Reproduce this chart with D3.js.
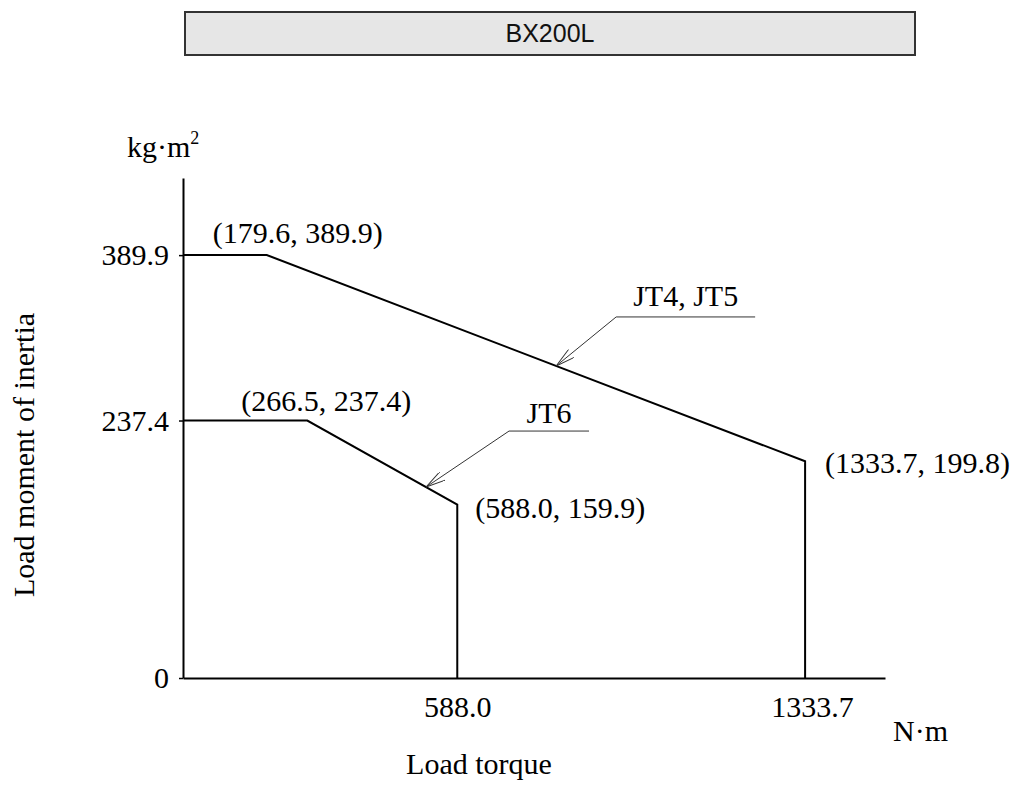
<!DOCTYPE html>
<html>
<head>
<meta charset="utf-8">
<script src="https://cdn.jsdelivr.net/npm/d3@7"></script>
<style>
  html, body { margin: 0; padding: 0; background: #fff; }
  svg { display: block; }
</style>
</head>
<body>
<svg id="chart" width="1021" height="787"></svg>
<script>
// ---- data ----
const title = "BX200L";
const torqueJT45 = [0, 179.6, 1333.7, 1333.7];
const inertiaJT45 = [389.9, 389.9, 199.8, 0];
const torqueJT6 = [0, 266.5, 588.0, 588.0];
const inertiaJT6 = [237.4, 237.4, 159.9, 0];
const xTicks = [588.0, 1333.7];
const yTicks = [0, 237.4, 389.9];
const seriesNames = ["JT4, JT5", "JT6"];
const arrowTipTorque = [800, 521];
const xLabel = "Load torque";
const yLabel = "Load moment of inertia";
const xUnit = "N·m";

const svg = d3.select("#chart");
const serif = "'Liberation Serif', 'Times New Roman', serif";
const FS = 30;

// ---- scales ----
const x = d3.scaleLinear().domain([0, 1505]).range([183, 885]);
const y = d3.scaleLinear().domain([0, 461]).range([678, 178]);

// ---- title box ----
svg.append("rect").attr("x", 185).attr("y", 12).attr("width", 730).attr("height", 43)
  .attr("fill", "#e6e6e6").attr("stroke", "#333").attr("stroke-width", 2);
svg.append("text").attr("x", 550).attr("y", 42).attr("text-anchor", "middle")
  .attr("font-family", "'Liberation Sans', Arial, sans-serif").attr("font-size", 25)
  .attr("fill", "#111").text(title);

// ---- axes ----
const fmt = v => v === 0 ? "0" : d3.format(".1f")(v);
const yAxis = svg.append("g").attr("transform", `translate(${x(0)},0)`)
  .call(d3.axisLeft(y).tickValues(yTicks).tickSize(4).tickSizeOuter(0).tickPadding(10).tickFormat(fmt));
const xAxis = svg.append("g").attr("transform", `translate(0,${y(0)})`)
  .call(d3.axisBottom(x).tickValues(xTicks).tickSize(0).tickSizeOuter(0).tickPadding(18).tickFormat(fmt));
[xAxis, yAxis].forEach(g => {
  g.select(".domain").attr("stroke", "#000").attr("stroke-width", 2);
  g.selectAll(".tick line").attr("stroke", "#000").attr("stroke-width", 1.5);
  g.selectAll(".tick text").attr("font-family", serif).attr("font-size", FS).attr("fill", "#000");
});
yAxis.selectAll(".tick text").attr("dy", "0.32em");
xAxis.selectAll(".tick text").filter(d => d === 1333.7).attr("dx", 7);

// ---- axis labels ----
const kg = svg.append("text").attr("x", 127).attr("y", 157).attr("font-family", serif)
  .attr("font-size", FS).attr("fill", "#000");
kg.append("tspan").text("kg·m");
kg.append("tspan").attr("font-size", 18).attr("dy", -13).text("2");

svg.append("text").attr("x", 893).attr("y", 741).attr("font-family", serif)
  .attr("font-size", FS).attr("fill", "#000").text(xUnit);
svg.append("text").attr("x", 479).attr("y", 774).attr("text-anchor", "middle")
  .attr("font-family", serif).attr("font-size", FS).attr("fill", "#000").text(xLabel);
svg.append("text").attr("transform", "translate(34,455) rotate(-90)").attr("text-anchor", "middle")
  .attr("font-family", serif).attr("font-size", FS).attr("fill", "#000").text(yLabel);

// ---- curves ----
const line = d3.line().x(d => x(d[0])).y(d => y(d[1]));
const s45 = torqueJT45.map((t, i) => [t, inertiaJT45[i]]);
const s6 = torqueJT6.map((t, i) => [t, inertiaJT6[i]]);
[s45, s6].forEach(s => {
  svg.append("path").attr("d", line(s)).attr("fill", "none")
    .attr("stroke", "#000").attr("stroke-width", 2).attr("stroke-linejoin", "miter");
});

// ---- point labels ----
const labels = [
  { p: s45[1], dx: 31, dy: -12, anchor: "middle" },
  { p: s45[2], dx: 20, dy: 12, anchor: "start" },
  { p: s6[1], dx: 19, dy: -10, anchor: "middle" },
  { p: s6[2], dx: 18, dy: 13, anchor: "start" }
];
labels.forEach(l => {
  svg.append("text").attr("x", x(l.p[0]) + l.dx).attr("y", y(l.p[1]) + l.dy)
    .attr("text-anchor", l.anchor).attr("font-family", serif).attr("font-size", FS)
    .attr("fill", "#000").text(`(${l.p[0].toFixed(1)}, ${l.p[1].toFixed(1)})`);
});

// ---- callouts ----
svg.append("defs").append("marker").attr("id", "arr").attr("viewBox", "0 0 20 10")
  .attr("refX", 20).attr("refY", 5).attr("markerWidth", 20).attr("markerHeight", 10)
  .attr("markerUnits", "userSpaceOnUse").attr("orient", "auto")
  .append("path").attr("d", "M0,0 L20,5 L0,10").attr("fill", "none")
  .attr("stroke", "#333").attr("stroke-width", 1);

function yOn(series, t) {
  for (let i = 0; i < series.length - 1; i++) {
    const a = series[i], b = series[i + 1];
    if (t >= a[0] && t <= b[0] && b[0] !== a[0]) return a[1] + (b[1] - a[1]) * (t - a[0]) / (b[0] - a[0]);
  }
  return series[0][1];
}
const callouts = [
  { series: s45, t: arrowTipTorque[0], ox: 60, oy: -49, len: 139, gap: 11, name: seriesNames[0] },
  { series: s6, t: arrowTipTorque[1], ox: 83, oy: -56, len: 80, gap: 8, name: seriesNames[1] }
];
callouts.forEach(c => {
  const tx = x(c.t), ty = y(yOn(c.series, c.t));
  const ex = tx + c.ox, ey = ty + c.oy;
  svg.append("path").attr("d", `M${ex + c.len},${ey} L${ex},${ey} L${tx},${ty}`)
    .attr("fill", "none").attr("stroke", "#333").attr("stroke-width", 1)
    .attr("marker-end", "url(#arr)");
  svg.append("text").attr("x", ex + c.len / 2).attr("y", ey - c.gap).attr("text-anchor", "middle")
    .attr("font-family", serif).attr("font-size", FS).attr("fill", "#000").text(c.name);
});
</script>
</body>
</html>
